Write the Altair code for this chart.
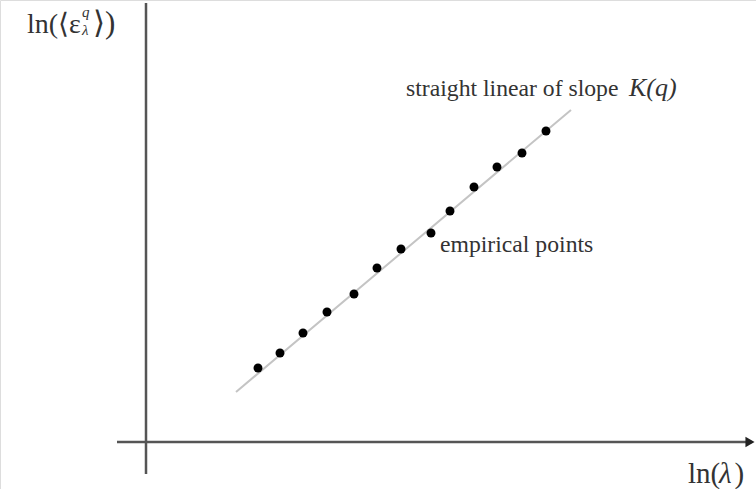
import altair as alt
import pandas as pd

# empirical points (ln(lambda), ln(<eps^q>)) in arbitrary units, origin at axes crossing
pt_x = [1.12, 1.34, 1.57, 1.81, 2.08, 2.31, 2.55, 2.85, 3.04, 3.28, 3.51, 3.76, 4.00]
pt_y = [0.74, 0.89, 1.09, 1.30, 1.48, 1.74, 1.93, 2.09, 2.31, 2.55, 2.75, 2.89, 3.11]

# fitted straight line end points
fit_x = [0.90, 4.25]
fit_y = [0.50, 3.32]

# axes extents
haxis_x = [-0.29, 6.06]
vaxis_y = [-0.32, 4.39]

# labels
lbl_text = ["straight linear of slope", "empirical points"]
lbl_x = [2.60, 2.94]
lbl_y = [3.46, 1.90]

FONT = "Liberation Serif"
XD = [-1.46, 6.10]
YD = [-0.47, 4.42]

xs = alt.Scale(domain=XD, nice=False, zero=False)
ys = alt.Scale(domain=YD, nice=False, zero=False)

pts = pd.DataFrame({"x": pt_x, "y": pt_y})
fit = pd.DataFrame({"x": fit_x, "y": fit_y})
hax = pd.DataFrame({"x": [haxis_x[0]], "x2": [haxis_x[1]], "y": [0.0]})
vax = pd.DataFrame({"x": [0.0], "y": [vaxis_y[0]], "y2": [vaxis_y[1]]})
arrow = pd.DataFrame({"x": [haxis_x[1] - 0.02], "y": [0.0]})
lbls = pd.DataFrame({"t": lbl_text, "x": lbl_x, "y": lbl_y})

X = lambda: alt.X("x:Q", scale=xs, axis=None)
Y = lambda: alt.Y("y:Q", scale=ys, axis=None)

h_rule = alt.Chart(hax).mark_rule(color="#555555", strokeWidth=2.5).encode(
    x=X(), x2="x2:Q", y=Y())
v_rule = alt.Chart(vax).mark_rule(color="#555555", strokeWidth=2.5).encode(
    x=X(), y=Y(), y2="y2:Q")
arr = alt.Chart(arrow).mark_point(shape="triangle-right", filled=True, color="#222222",
                                  size=110, opacity=1).encode(x=X(), y=Y())
line = alt.Chart(fit).mark_line(color="#c4c4c4", strokeWidth=2).encode(x=X(), y=Y())
dots = alt.Chart(pts).mark_circle(color="#000000", size=80, opacity=1).encode(x=X(), y=Y())

labels = alt.Chart(lbls).mark_text(font=FONT, fontSize=23.7, align="left",
                                   baseline="alphabetic", color="#333333").encode(
    x=X(), y=Y(), text="t:N")

def txt(t, x, y, size, style="normal"):
    d = pd.DataFrame({"t": [t], "x": [x], "y": [y]})
    return alt.Chart(d).mark_text(font=FONT, fontSize=size, align="left",
                                  baseline="alphabetic", color="#333333",
                                  fontStyle=style).encode(x=X(), y=Y(), text="t:N")

kq = txt("K(q)", 4.83, 3.46, 26, "italic")
ylab1 = txt("ln(⟨ε", -1.19, 4.09, 28)
ylab_sup = txt("q", -0.64, 4.25, 15, "italic")
ylab_sub = txt("λ", -0.64, 4.07, 15, "italic")
ylab2 = txt("⟩)", -0.53, 4.09, 31)
xlab1 = txt("ln(", 5.42, -0.41, 29)
xlab2 = txt("λ", 5.73, -0.41, 29, "italic")
xlab3 = txt(")", 5.885, -0.41, 29)

chart = alt.layer(
    line, h_rule, v_rule, arr, dots, labels, kq, ylab1, ylab_sup, ylab_sub, ylab2,
    xlab1, xlab2, xlab3
).properties(
    width=756, height=489, padding=0, autosize=alt.AutoSizeParams(type="none")
).configure_view(stroke=None).configure(background="white")

chart.save("out.html", embed_options={"renderer": "svg", "actions": False})
